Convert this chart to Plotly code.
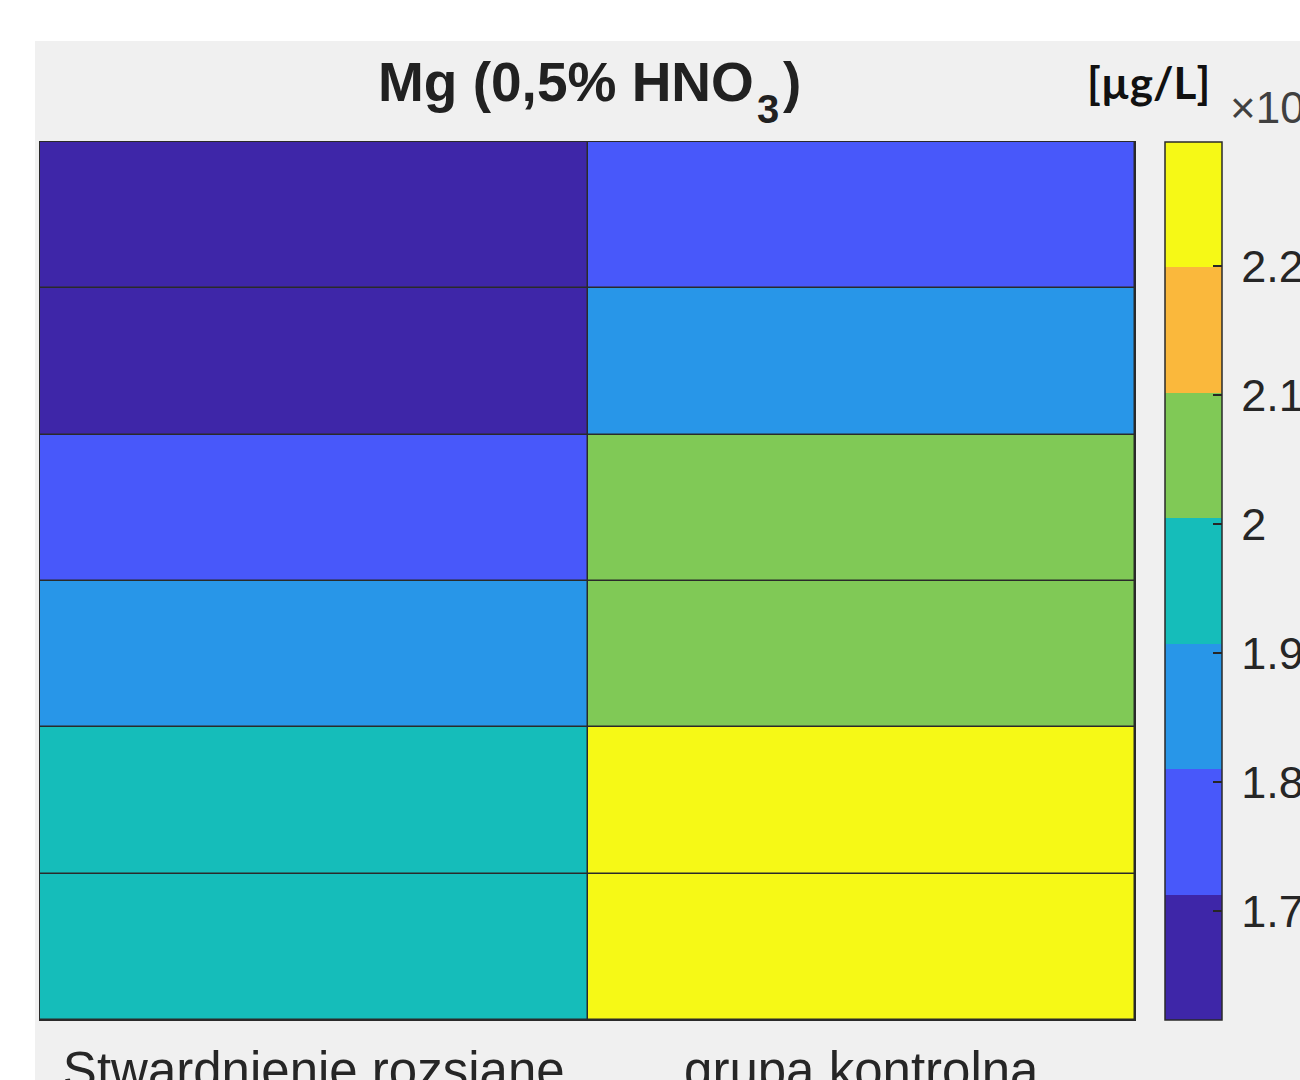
import plotly.graph_objects as go

# Mg concentration (µg/L) in 0.5% HNO3 extracts, six samples per group
groups = ["Stwardnienie rozsiane", "grupa kontrolna"]
rows = [1, 2, 3, 4, 5, 6]
mg_sm = [16155, 16800, 17500, 18600, 19300, 19600]
mg_control = [17700, 18400, 20200, 20500, 22960, 22500]

tick_vals = [17000, 18000, 19000, 20000, 21000, 22000]
tick_text = ["1.7", "1.8", "1.9", "2", "2.1", "2.2"]

# seven-level discrete palette
palette = ["#3E26A8", "#4858FA", "#2896E8", "#15BDBA", "#80C956", "#FAB83C", "#F6F916"]

n = len(palette)
colorscale = []
for i, c in enumerate(palette):
    colorscale.append([i / n, c])
    colorscale.append([(i + 1) / n, c])

z = [[a, b] for a, b in zip(mg_sm, mg_control)]

W, H = 1300, 1080
px_x = lambda v: v / W
px_y = lambda v: 1 - v / H

LABEL_FONT = "Liberation Sans, Arial"
DARK = "#262626"
EDGE = "#2a2a2a"

fig = go.Figure()
fig.add_trace(go.Heatmap(
    x=groups,
    y=rows,
    z=z,
    colorscale=colorscale,
    xgap=1.5,
    ygap=1.5,
    hoverinfo="skip",
    colorbar=dict(
        x=px_x(1165), xanchor="left", xpad=0,
        y=px_y(142), yanchor="top", ypad=0,
        lenmode="pixels", len=878,
        thickness=57,
        outlinewidth=1.5, outlinecolor=EDGE,
        tickmode="array", tickvals=tick_vals,
        ticktext=["\u2009" + t for t in tick_text],
        ticks="inside", ticklen=9, tickwidth=1.5, tickcolor=DARK,
        tickfont=dict(family=LABEL_FONT, size=45, color=DARK),
    ),
))

fig.update_layout(
    width=W, height=H,
    margin=dict(l=0, r=0, t=0, b=0, autoexpand=False),
    paper_bgcolor="#f0f0f0",
    plot_bgcolor=EDGE,
    showlegend=False,
    xaxis=dict(
        domain=[px_x(40), px_x(1135)],
        automargin=False,
        showgrid=False, zeroline=False,
        ticks="", ticklabelstandoff=6,
        tickfont=dict(family=LABEL_FONT, size=51, color=DARK),
        showline=True, linecolor=EDGE, linewidth=1, mirror=True,
    ),
    yaxis=dict(
        domain=[px_y(1020), px_y(142)],
        automargin=False,
        autorange="reversed",
        showgrid=False, zeroline=False, showticklabels=False, ticks="",
        showline=True, linecolor=EDGE, linewidth=1, mirror=True,
    ),
    shapes=[
        # white surround above and left of the grey figure panel
        dict(type="rect", xref="paper", yref="paper",
             x0=0, x1=1, y0=px_y(41), y1=1,
             fillcolor="white", line=dict(width=0), layer="below"),
        dict(type="rect", xref="paper", yref="paper",
             x0=0, x1=px_x(35), y0=0, y1=1,
             fillcolor="white", line=dict(width=0), layer="below"),
    ],
    annotations=[
        # title split so the subscript sits low like a chemical formula
        dict(
            text="<b>Mg (0,5% HNO</b>",
            xref="paper", yref="paper", x=px_x(756), y=px_y(82),
            xanchor="right", yanchor="middle", showarrow=False,
            font=dict(family=LABEL_FONT, size=55, color="#212121"),
        ),
        dict(
            text="<b>3</b>",
            xref="paper", yref="paper", x=px_x(755), y=px_y(109),
            xanchor="left", yanchor="middle", showarrow=False,
            font=dict(family=LABEL_FONT, size=40, color="#212121"),
        ),
        dict(
            text="<b>)</b>",
            xref="paper", yref="paper", x=px_x(781), y=px_y(82),
            xanchor="left", yanchor="middle", showarrow=False,
            font=dict(family=LABEL_FONT, size=55, color="#212121"),
        ),
        dict(
            text="<b>[µg/L]</b>",
            xref="paper", yref="paper", x=px_x(1085), y=px_y(82),
            xanchor="left", yanchor="middle", showarrow=False,
            font=dict(family="Lato", size=44, color="#111111"),
        ),
        dict(
            text="×10<sup>4</sup>",
            xref="paper", yref="paper", x=px_x(1228), y=px_y(104),
            xanchor="left", yanchor="middle", showarrow=False,
            font=dict(family=LABEL_FONT, size=44, color="#404040"),
        ),
    ],
)

fig.write_html("out.html")
